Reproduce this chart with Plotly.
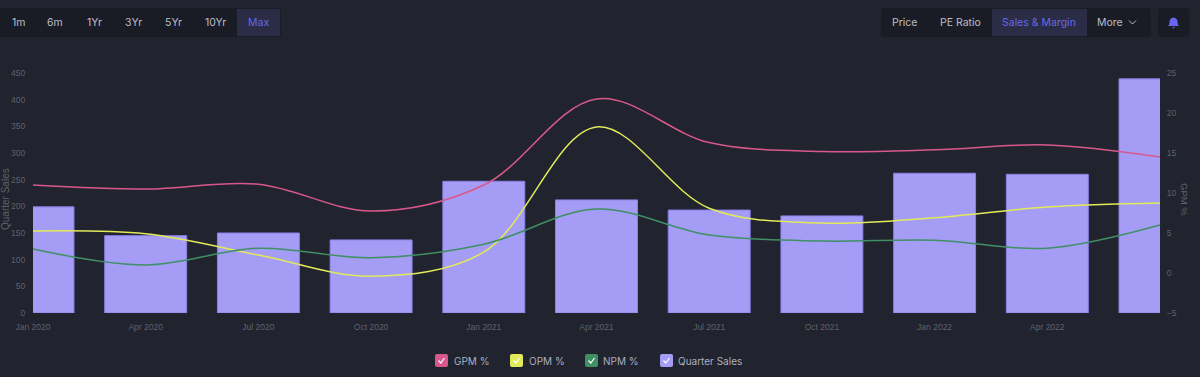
import plotly.graph_objects as go

W, H = 1200, 377
L, R, T, B = 33, 40, 73, 64

quarters = ["Jan 2020", "Apr 2020", "Jul 2020", "Oct 2020", "Jan 2021", "Apr 2021",
            "Jul 2021", "Oct 2021", "Jan 2022", "Apr 2022", "Jul 2022"]
axis_labels = quarters[:-1]
quarter_sales = [199, 145, 150, 137, 247, 212, 193, 182, 262, 260, 439]
gpm = [11.0, 10.5, 11.1, 7.75, 11.0, 21.75, 16.3, 15.2, 15.4, 16.0, 14.5]
opm = [5.25, 4.9, 2.25, -0.4, 2.6, 18.25, 8.1, 6.25, 6.9, 8.25, 8.75]
npm = [3.0, 1.0, 3.1, 1.9, 3.6, 8.0, 4.75, 4.0, 4.1, 3.1, 6.0]
left_ticks = [0, 50, 100, 150, 200, 250, 300, 350, 400, 450]
right_ticks = [-5, 0, 5, 10, 15, 20, 25]
range_buttons = ["1m", "6m", "1Yr", "3Yr", "5Yr", "10Yr", "Max"]
range_centers = [18, 55, 94, 133, 173, 215, 258]
view_buttons = ["Price", "PE Ratio", "Sales & Margin", "More"]
view_centers = [905, 960, 1039, 1110]

BG = "#21232e"
PANEL = "#1a1c25"
ACTIVE = "#2a2d45"
ACCENT = "#6568ee"
TEXT = "#b9bcc9"
AXIS = "#5f626c"
BAR = "#a59cf5"
PINK = "#d9588c"
YELLOW = "#e2ea5a"
GREEN = "#3f9064"
TICK_FONT = "Liberation Sans"

pw, ph = W - L - R, H - T - B
px = lambda x: (x - L) / pw
py = lambda y: 1 - (y - T) / ph

fig = go.Figure()
fig.add_trace(go.Bar(x=quarters, y=quarter_sales, name="Quarter Sales", width=0.727,
                     marker=dict(color=BAR, line=dict(color="#8a80ea", width=1)), yaxis="y"))
for name, vals, col in [("GPM %", gpm, PINK), ("OPM %", opm, YELLOW), ("NPM %", npm, GREEN)]:
    fig.add_trace(go.Scatter(x=quarters, y=vals, name=name, mode="lines", yaxis="y2",
                             line=dict(color=col, width=1.5, shape="spline", smoothing=1.0)))

shapes, annotations = [], []

def rect(x0, y0, x1, y1, color, radius=0):
    if radius:
        r = radius
        path = (f"M {px(x0+r)} {py(y0)} L {px(x1-r)} {py(y0)} Q {px(x1)} {py(y0)} {px(x1)} {py(y0+r)} "
                f"L {px(x1)} {py(y1-r)} Q {px(x1)} {py(y1)} {px(x1-r)} {py(y1)} "
                f"L {px(x0+r)} {py(y1)} Q {px(x0)} {py(y1)} {px(x0)} {py(y1-r)} "
                f"L {px(x0)} {py(y0+r)} Q {px(x0)} {py(y0)} {px(x0+r)} {py(y0)} Z")
        shapes.append(dict(type="path", xref="paper", yref="paper", path=path, fillcolor=color,
                           line=dict(width=0), layer="below"))
    else:
        shapes.append(dict(type="rect", xref="paper", yref="paper", x0=px(x0), x1=px(x1),
                           y0=py(y0), y1=py(y1), fillcolor=color, line=dict(width=0), layer="below"))

def text(x, y, s, color=TEXT, size=10.5, anchor="center", family="Inter", angle=0):
    annotations.append(dict(xref="paper", yref="paper", x=px(x), y=py(y), text=s, showarrow=False,
                            xanchor=anchor, yanchor="middle", textangle=angle,
                            font=dict(family=family, size=size, color=color)))

rect(0, 8, 281, 37, PANEL, 3)
rect(237, 9, 280, 36, ACTIVE)
for s, c in zip(range_buttons, range_centers):
    text(c, 22, s, ACCENT if s == "Max" else TEXT)

rect(881, 8, 1151, 37, PANEL, 3)
rect(992, 9, 1087, 36, ACTIVE)
for s, c in zip(view_buttons, view_centers):
    text(c, 22, s, ACCENT if s.startswith("Sales") else TEXT)
shapes.append(dict(type="path", xref="paper", yref="paper",
                   path=f"M {px(1129)} {py(20.5)} L {px(1132.5)} {py(24)} L {px(1136)} {py(20.5)}",
                   line=dict(color=TEXT, width=1)))
rect(1158, 8, 1189, 37, PANEL, 3)
shapes.append(dict(type="path", xref="paper", yref="paper", fillcolor=ACCENT, line=dict(width=0),
                   path=(f"M {px(1173.5)} {py(17.5)} Q {px(1169.5)} {py(18)} {px(1169.5)} {py(22)} "
                         f"L {px(1169)} {py(25)} L {px(1168)} {py(26)} L {px(1179)} {py(26)} "
                         f"L {px(1178)} {py(25)} L {px(1177.5)} {py(22)} Q {px(1177.5)} {py(18)} {px(1173.5)} {py(17.5)} Z "
                         f"M {px(1172)} {py(27)} L {px(1175)} {py(27)} L {px(1173.5)} {py(28.5)} Z")))

legend_items = [("GPM %", PINK, 435, 452), ("OPM %", YELLOW, 510, 527),
                ("NPM %", GREEN, 585, 601), ("Quarter Sales", BAR, 660, 676)]
for name, col, bx, tx in legend_items:
    rect(bx, 354, bx + 13, 367, col, 2)
    shapes.append(dict(type="path", xref="paper", yref="paper",
                       path=f"M {px(bx+3.5)} {py(360.5)} L {px(bx+5.8)} {py(363)} L {px(bx+9.5)} {py(358)}",
                       line=dict(color="#ffffff", width=1.2)))
    text(tx, 360.5, name, "#aab0c2", 10, "left")

text(5, 199, "Quarter Sales", AXIS, 10, family=TICK_FONT, angle=-90)
text(1185, 199, "GPM %", AXIS, 9.5, family=TICK_FONT, angle=90)

fig.update_layout(
    width=W, height=H, autosize=False,
    margin=dict(l=L, r=R, t=T, b=B, pad=0, autoexpand=False),
    paper_bgcolor=BG, plot_bgcolor=BG,
    showlegend=False, barmode="overlay",
    font=dict(family=TICK_FONT, size=9, color=AXIS),
    xaxis=dict(type="category", categoryorder="array", categoryarray=quarters, range=[0, 10],
               tickvals=axis_labels, ticktext=axis_labels, showgrid=False, zeroline=False,
               showline=False, ticks="outside", ticklen=6, tickcolor=BG, tickwidth=0,
               tickfont=dict(size=8.5, color=AXIS), tickangle=0, automargin=False),
    yaxis=dict(range=[0, 450], tickvals=left_ticks, showgrid=False, zeroline=False, showline=False,
               ticks="outside", ticklen=5, tickcolor=BG, tickwidth=0, tickfont=dict(size=8.5, color=AXIS),
               automargin=False),
    yaxis2=dict(range=[-5, 25], tickvals=right_ticks, overlaying="y", side="right", showgrid=False,
                zeroline=False, showline=False, ticks="outside", ticklen=4, tickcolor=BG, tickwidth=0,
                tickfont=dict(size=8.5, color=AXIS), automargin=False),
    shapes=shapes, annotations=annotations,
)
fig.write_html("out.html", config=dict(displayModeBar=False),
               post_script=f"document.body.style.margin='0';document.documentElement.style.background='{BG}';document.body.style.background='{BG}';document.body.style.overflow='hidden';")
